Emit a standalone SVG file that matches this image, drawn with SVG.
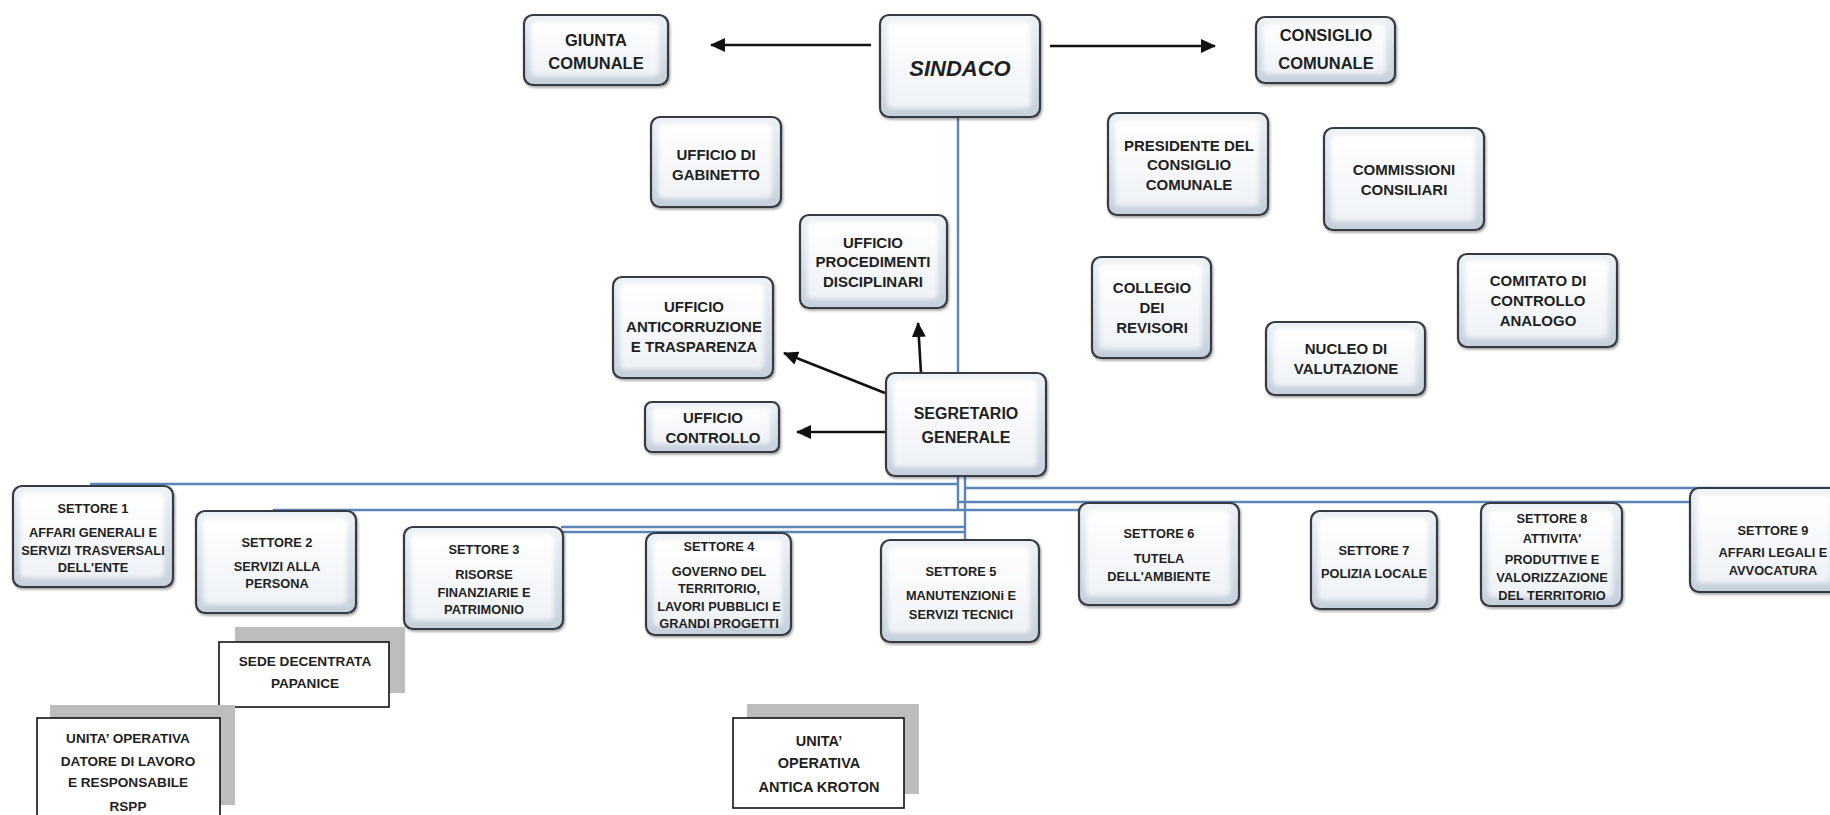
<svg xmlns="http://www.w3.org/2000/svg" width="1830" height="815" viewBox="0 0 1830 815">
<defs>
<style>
.bo{fill:url(#gOut);stroke:#353b42;stroke-width:2.2;filter:url(#sh)}
.bi{fill:url(#gIn);stroke:none;filter:url(#bl)}
.t{font-family:"Liberation Sans",Arial,sans-serif;font-weight:bold;fill:#1f1f1f;text-anchor:middle}
.s{font-size:12.8px}
.m{font-size:15px}
.l{font-size:16.5px}
.g{font-size:16px}
.k{font-size:22px;font-style:italic}
.b{font-size:13.6px}
.sq{fill:#ffffff;stroke:#111;stroke-width:1.6}
.sd{fill:#bdbdbd}
.bus{fill:none;stroke:#5c84b6;stroke-width:2.4}
.ar{fill:none;stroke:#111;stroke-width:2.6;marker-end:url(#ah)}
</style>
<linearGradient id="gOut" x1="0" y1="0" x2="0" y2="1">
<stop offset="0" stop-color="#eef2f6"/>
<stop offset="1" stop-color="#c6d0db"/>
</linearGradient>
<linearGradient id="gIn" x1="0" y1="0" x2="0" y2="1">
<stop offset="0" stop-color="#ffffff"/>
<stop offset="1" stop-color="#eef2f7"/>
</linearGradient>
<filter id="sh" x="-10%" y="-10%" width="125%" height="130%">
<feDropShadow dx="1.2" dy="1.8" stdDeviation="1.2" flood-color="#000" flood-opacity="0.35"/>
</filter>
<filter id="bl" x="-10%" y="-10%" width="120%" height="120%">
<feGaussianBlur stdDeviation="2"/>
</filter>
<marker id="ah" markerUnits="userSpaceOnUse" markerWidth="16" markerHeight="14" refX="14" refY="7" orient="auto">
<path d="M0,0 L15,7 L0,14 Z" fill="#111"/>
</marker>
</defs>
<rect width="1830" height="815" fill="#ffffff"/>

<g id="connectors">
<path class="bus" d="M958,117 V510"/>
<path class="bus" d="M965,476 V540"/>
<path class="bus" d="M90,484 H958"/>
<path class="bus" d="M273,510 H1090"/>
<path class="bus" d="M561,527 H965"/>
<path class="bus" d="M500,532 H965"/>
<path class="bus" d="M965,488 H1830"/>
<path class="bus" d="M958,502 H1690"/>
<path class="ar" d="M871,45 H711"/>
<path class="ar" d="M1050,46 H1215"/>
<path class="ar" d="M885,393 L784,353"/>
<path class="ar" d="M921,373 L918,323"/>
<path class="ar" d="M886,432 H797"/>
</g>

<g id="giunta"><rect class="bo" x="524" y="15" width="144" height="70" rx="9"/><rect class="bi" x="531" y="22" width="128" height="54" rx="5"/>
<text class="t l"><tspan x="596" y="46">GIUNTA</tspan><tspan x="596" y="69">COMUNALE</tspan></text></g>

<g id="sindaco"><rect class="bo" x="880" y="15" width="160" height="102" rx="9"/><rect class="bi" x="887" y="22" width="144" height="86" rx="5"/>
<text class="t k" x="960" y="76">SINDACO</text></g>

<g id="consiglio"><rect class="bo" x="1256" y="17" width="139" height="66" rx="9"/><rect class="bi" x="1263" y="24" width="123" height="50" rx="5"/>
<text class="t l"><tspan x="1326" y="41">CONSIGLIO</tspan><tspan x="1326" y="69">COMUNALE</tspan></text></g>

<g id="gabinetto"><rect class="bo" x="651" y="117" width="130" height="90" rx="9"/><rect class="bi" x="658" y="124" width="114" height="74" rx="5"/>
<text class="t m"><tspan x="716" y="160">UFFICIO DI</tspan><tspan x="716" y="180">GABINETTO</tspan></text></g>

<g id="presidente"><rect class="bo" x="1108" y="113" width="160" height="102" rx="9"/><rect class="bi" x="1115" y="120" width="144" height="86" rx="5"/>
<text class="t m"><tspan x="1189" y="151">PRESIDENTE DEL</tspan><tspan x="1189" y="170">CONSIGLIO</tspan><tspan x="1189" y="190">COMUNALE</tspan></text></g>

<g id="commissioni"><rect class="bo" x="1324" y="128" width="160" height="102" rx="9"/><rect class="bi" x="1331" y="135" width="144" height="86" rx="5"/>
<text class="t m"><tspan x="1404" y="175">COMMISSIONI</tspan><tspan x="1404" y="195">CONSILIARI</tspan></text></g>

<g id="procedimenti"><rect class="bo" x="800" y="215" width="147" height="93" rx="9"/><rect class="bi" x="807" y="222" width="131" height="77" rx="5"/>
<text class="t m"><tspan x="873" y="248">UFFICIO</tspan><tspan x="873" y="267">PROCEDIMENTI</tspan><tspan x="873" y="287">DISCIPLINARI</tspan></text></g>

<g id="collegio"><rect class="bo" x="1092" y="257" width="119" height="101" rx="9"/><rect class="bi" x="1099" y="264" width="103" height="85" rx="5"/>
<text class="t m"><tspan x="1152" y="293">COLLEGIO</tspan><tspan x="1152" y="313">DEI</tspan><tspan x="1152" y="333">REVISORI</tspan></text></g>

<g id="comitato"><rect class="bo" x="1458" y="254" width="159" height="93" rx="9"/><rect class="bi" x="1465" y="261" width="143" height="77" rx="5"/>
<text class="t m"><tspan x="1538" y="286">COMITATO DI</tspan><tspan x="1538" y="306">CONTROLLO</tspan><tspan x="1538" y="326">ANALOGO</tspan></text></g>

<g id="nucleo"><rect class="bo" x="1266" y="322" width="159" height="73" rx="9"/><rect class="bi" x="1273" y="329" width="143" height="57" rx="5"/>
<text class="t m"><tspan x="1346" y="354">NUCLEO DI</tspan><tspan x="1346" y="374">VALUTAZIONE</tspan></text></g>

<g id="anticorruzione"><rect class="bo" x="613" y="277" width="160" height="101" rx="9"/><rect class="bi" x="620" y="284" width="144" height="85" rx="5"/>
<text class="t m"><tspan x="694" y="312">UFFICIO</tspan><tspan x="694" y="332">ANTICORRUZIONE</tspan><tspan x="694" y="352">E TRASPARENZA</tspan></text></g>

<g id="controllo"><rect class="bo" x="645" y="402" width="134" height="50" rx="7"/><rect class="bi" x="652" y="408" width="118" height="36" rx="4"/>
<text class="t m"><tspan x="713" y="423">UFFICIO</tspan><tspan x="713" y="443">CONTROLLO</tspan></text></g>

<g id="segretario"><rect class="bo" x="886" y="373" width="160" height="103" rx="9"/><rect class="bi" x="893" y="380" width="144" height="87" rx="5"/>
<text class="t g"><tspan x="966" y="419">SEGRETARIO</tspan><tspan x="966" y="443">GENERALE</tspan></text></g>

<g id="settore1"><rect class="bo" x="13" y="486" width="160" height="101" rx="9"/><rect class="bi" x="20" y="493" width="144" height="85" rx="5"/>
<text class="t s"><tspan x="93" y="513">SETTORE 1</tspan><tspan x="93" y="537">AFFARI GENERALI E</tspan><tspan x="93" y="555">SERVIZI TRASVERSALI</tspan><tspan x="93" y="572">DELL'ENTE</tspan></text></g>

<g id="settore2"><rect class="bo" x="196" y="511" width="160" height="102" rx="9"/><rect class="bi" x="203" y="518" width="144" height="86" rx="5"/>
<text class="t s"><tspan x="277" y="547">SETTORE 2</tspan><tspan x="277" y="571">SERVIZI ALLA</tspan><tspan x="277" y="588">PERSONA</tspan></text></g>

<g id="settore3"><rect class="bo" x="404" y="527" width="159" height="102" rx="9"/><rect class="bi" x="411" y="534" width="143" height="86" rx="5"/>
<text class="t s"><tspan x="484" y="554">SETTORE 3</tspan><tspan x="484" y="579">RISORSE</tspan><tspan x="484" y="597">FINANZIARIE E</tspan><tspan x="484" y="614">PATRIMONIO</tspan></text></g>

<g id="settore4"><rect class="bo" x="646" y="533" width="145" height="102" rx="9"/><rect class="bi" x="653" y="540" width="129" height="86" rx="5"/>
<text class="t s"><tspan x="719" y="551">SETTORE 4</tspan><tspan x="719" y="576">GOVERNO DEL</tspan><tspan x="719" y="593">TERRITORIO,</tspan><tspan x="719" y="611">LAVORI PUBBLICI E</tspan><tspan x="719" y="628">GRANDI PROGETTI</tspan></text></g>

<g id="settore5"><rect class="bo" x="881" y="540" width="158" height="102" rx="9"/><rect class="bi" x="888" y="547" width="142" height="86" rx="5"/>
<text class="t s"><tspan x="961" y="576">SETTORE 5</tspan><tspan x="961" y="600">MANUTENZIONi E</tspan><tspan x="961" y="619">SERVIZI TECNICI</tspan></text></g>

<g id="settore6"><rect class="bo" x="1079" y="503" width="160" height="102" rx="9"/><rect class="bi" x="1086" y="510" width="144" height="86" rx="5"/>
<text class="t s"><tspan x="1159" y="538">SETTORE 6</tspan><tspan x="1159" y="563">TUTELA</tspan><tspan x="1159" y="581">DELL'AMBIENTE</tspan></text></g>

<g id="settore7"><rect class="bo" x="1311" y="511" width="126" height="98" rx="9"/><rect class="bi" x="1318" y="518" width="110" height="82" rx="5"/>
<text class="t s"><tspan x="1374" y="555">SETTORE 7</tspan><tspan x="1374" y="578">POLIZIA LOCALE</tspan></text></g>

<g id="settore8"><rect class="bo" x="1481" y="503" width="141" height="103" rx="9"/><rect class="bi" x="1488" y="510" width="125" height="87" rx="5"/>
<text class="t s"><tspan x="1552" y="523">SETTORE 8</tspan><tspan x="1552" y="543">ATTIVITA'</tspan><tspan x="1552" y="564">PRODUTTIVE E</tspan><tspan x="1552" y="582">VALORIZZAZIONE</tspan><tspan x="1552" y="600">DEL TERRITORIO</tspan></text></g>

<g id="settore9"><rect class="bo" x="1690" y="488" width="150" height="104" rx="9"/><rect class="bi" x="1697" y="495" width="134" height="88" rx="5"/>
<text class="t s"><tspan x="1773" y="535">SETTORE 9</tspan><tspan x="1773" y="557">AFFARI LEGALI E</tspan><tspan x="1773" y="575">AVVOCATURA</tspan></text></g>

<g id="sede-papanice"><rect class="sd" x="235" y="627" width="170" height="66"/><rect class="sq" x="219" y="642" width="170" height="65"/>
<text class="t b"><tspan x="305" y="666">SEDE DECENTRATA</tspan><tspan x="305" y="688">PAPANICE</tspan></text></g>

<g id="unita-datore"><rect class="sd" x="50" y="705" width="185" height="100"/><rect class="sq" x="37" y="718" width="183" height="110"/>
<text class="t b"><tspan x="128" y="743">UNITA’ OPERATIVA</tspan><tspan x="128" y="766">DATORE DI LAVORO</tspan><tspan x="128" y="787">E RESPONSABILE</tspan><tspan x="128" y="811">RSPP</tspan></text></g>

<g id="unita-kroton"><rect class="sd" x="747" y="704" width="172" height="90"/><rect class="sq" x="733" y="718" width="171" height="90"/>
<text class="t b" style="font-size:14.5px"><tspan x="819" y="746">UNITA’</tspan><tspan x="819" y="768">OPERATIVA</tspan><tspan x="819" y="792">ANTICA KROTON</tspan></text></g>
</svg>
